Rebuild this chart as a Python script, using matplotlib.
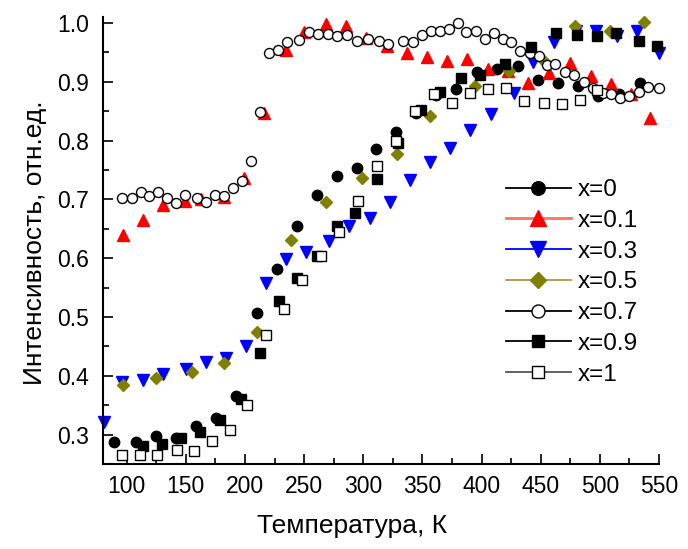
import numpy as np
import matplotlib
matplotlib.use("Agg")
import matplotlib.pyplot as plt
from matplotlib.lines import Line2D
from matplotlib.ticker import MultipleLocator

plt.rcParams['font.family'] = ['Liberation Sans', 'DejaVu Sans']

# x=0 (black filled circles)
t_x0 = [89.3, 107.6, 124.5, 141.4, 158.3, 175.2, 192.1, 209.8, 226.7, 243.6, 260.5, 278.0, 294.8,
        310.9, 327.8, 344.7, 361.8, 378.7, 395.9, 413.1, 430.5, 447.6, 464.6, 481.5, 498.4, 515.8, 533.6]
i_x0 = [0.287, 0.287, 0.298, 0.295, 0.314, 0.329, 0.366, 0.507, 0.581, 0.654, 0.707, 0.740, 0.753,
        0.785, 0.815, 0.846, 0.878, 0.887, 0.917, 0.921, 0.926, 0.903, 0.898, 0.893, 0.875, 0.879, 0.898]

# x=0.1 (red triangles up)
t_x01 = [96.9, 114.1, 131.0, 149.2, 162.5, 182.2, 199.1, 215.9, 234.3, 249.7, 268.1, 285.0, 301.9,
         320.2, 337.1, 354.0, 370.9, 387.8, 405.2, 422.4, 439.0, 456.7, 475.0, 492.5, 509.4, 526.3, 542.6]
i_x01 = [0.639, 0.665, 0.690, 0.697, 0.700, 0.704, 0.736, 0.846, 0.954, 0.985, 0.998, 0.994, 0.974,
         0.960, 0.949, 0.942, 0.936, 0.938, 0.921, 0.919, 0.897, 0.914, 0.931, 0.909, 0.896, 0.879, 0.839]

# x=0.3 (blue triangles down)
t_x03 = [80.8, 96.4, 114.1, 131.0, 149.8, 166.7, 183.6, 201.1, 218.0, 235.1, 252.0, 270.9, 287.8, 305.5,
         323.0, 339.9, 356.8, 373.6, 390.5, 408.0, 427.1, 443.8, 461.5, 480.1, 497.0, 514.4, 531.3, 549.6]
i_x03 = [0.321, 0.389, 0.393, 0.403, 0.412, 0.424, 0.430, 0.450, 0.558, 0.599, 0.611, 0.629, 0.655, 0.669,
         0.695, 0.733, 0.764, 0.788, 0.818, 0.845, 0.880, 0.934, 0.967, 0.986, 0.986, 0.977, 0.987, 0.949]

# x=0.5 (olive diamonds)
t_x05 = [96.9, 125.1, 154.9, 182.2, 210.4, 238.5, 268.9, 299.1, 328.6, 356.8, 394.8, 422.9, 452.2,
         478.6, 508.2, 536.9]
i_x05 = [0.385, 0.396, 0.407, 0.421, 0.475, 0.630, 0.695, 0.736, 0.777, 0.842, 0.892, 0.918, 0.937,
         0.995, 0.987, 1.001]

# x=0.7 (open circles)
t_x07 = [96.4, 104.2, 111.8, 119.2, 126.8, 134.4, 142.0, 149.6, 159.7, 167.3, 174.6, 182.2, 189.8, 197.7,
         205.3, 212.9, 220.5, 228.1, 235.7, 245.5, 253.9, 261.9, 270.4, 278.2, 286.4, 294.3, 304.1, 313.1,
         321.0, 333.7, 342.1, 349.7, 357.6, 365.2, 372.4, 380.0, 387.2, 395.2, 402.8, 410.2, 417.8, 425.2,
         432.8, 440.6, 448.2, 455.3, 462.3, 470.2, 477.8, 486.8, 494.2, 502.6, 509.6, 517.2, 524.8, 533.3,
         541.1, 549.6]
i_x07 = [0.703, 0.703, 0.712, 0.705, 0.713, 0.702, 0.693, 0.708, 0.703, 0.695, 0.707, 0.705, 0.720, 0.732,
         0.766, 0.848, 0.949, 0.954, 0.968, 0.971, 0.984, 0.981, 0.981, 0.977, 0.980, 0.970, 0.973, 0.970,
         0.964, 0.970, 0.967, 0.979, 0.987, 0.987, 0.990, 1.000, 0.984, 0.987, 0.973, 0.983, 0.972, 0.968,
         0.952, 0.948, 0.944, 0.929, 0.930, 0.917, 0.912, 0.899, 0.889, 0.881, 0.879, 0.873, 0.876, 0.883,
         0.891, 0.889]

# x=0.9 (black filled squares)
t_x09 = [114.1, 130.2, 145.6, 161.7, 178.5, 196.3, 212.6, 228.6, 244.2, 260.5, 277.4, 292.6, 311.7,
         329.1, 348.9, 364.6, 382.5, 399.0, 420.1, 441.6, 462.9, 480.6, 497.5, 513.9, 532.7, 548.7]
i_x09 = [0.281, 0.284, 0.294, 0.304, 0.325, 0.361, 0.439, 0.527, 0.566, 0.603, 0.654, 0.676, 0.734,
         0.795, 0.852, 0.883, 0.906, 0.912, 0.930, 0.959, 0.982, 0.980, 0.978, 0.982, 0.970, 0.960]

# x=1 (open squares)
t_x1 = [95.8, 111.0, 125.9, 142.2, 156.8, 171.8, 187.0, 201.9, 218.0, 232.9, 248.4, 263.9, 279.6, 295.7,
        311.7, 327.8, 343.5, 359.5, 375.1, 389.9, 405.7, 420.9, 435.6, 452.4, 468.0, 482.9, 497.5]
i_x1 = [0.265, 0.265, 0.265, 0.274, 0.272, 0.289, 0.308, 0.351, 0.470, 0.514, 0.562, 0.603, 0.645, 0.697,
        0.757, 0.800, 0.850, 0.879, 0.863, 0.881, 0.887, 0.890, 0.868, 0.864, 0.862, 0.869, 0.886]

labels = ['x=0', 'x=0.1', 'x=0.3', 'x=0.5', 'x=0.7', 'x=0.9', 'x=1']

# (marker, face, edge, size, legend line colour)
styles = [
    ('o', 'black', 'black', 7.5, 'black'),
    ('^', 'red', 'red', 8.8, '#ff7070'),
    ('v', 'blue', 'blue', 8.8, 'blue'),
    ('D', '#808000', '#808000', 6.3, '#a0a040'),
    ('o', 'white', 'black', 7.2, 'black'),
    ('s', 'black', 'black', 6.5, 'black'),
    ('s', 'white', 'black', 6.5, '#555555'),
]
series = [(t_x0, i_x0), (t_x01, i_x01), (t_x03, i_x03), (t_x05, i_x05),
          (t_x07, i_x07), (t_x09, i_x09), (t_x1, i_x1)]

fig = plt.figure(figsize=(6.88, 5.49), dpi=100)
ax = fig.add_axes([103 / 688, 85 / 549, 556 / 688, 447 / 549])

handles = []
for k in range(len(series)):
    t, v = series[k]
    m, fc, ec, ms, lc = styles[k]
    ax.plot(t, v, linestyle='none', marker=m, markerfacecolor=fc, markeredgecolor=ec,
            markersize=ms, markeredgewidth=1.0, clip_on=False)
    handles.append(Line2D([], [], color=lc, lw=1.3 if k != 1 else 2.0, marker=m,
                          markerfacecolor=fc, markeredgecolor=ec, markersize=ms * 1.3,
                          markeredgewidth=1.0))

ax.set_xlim(80, 550)
ax.set_ylim(0.25, 1.01)
ax.xaxis.set_major_locator(MultipleLocator(50))
ax.xaxis.set_minor_locator(MultipleLocator(25))
ax.yaxis.set_major_locator(MultipleLocator(0.1))
ax.yaxis.set_minor_locator(MultipleLocator(0.05))
ax.tick_params(which='both', direction='in', top=False, right=False, width=1.2, labelsize=16.5)
ax.tick_params(which='major', length=7)
ax.tick_params(which='minor', length=4)
ax.tick_params(axis='x', pad=8)
ax.tick_params(axis='y', pad=10)
ax.spines['top'].set_visible(False)
ax.spines['right'].set_visible(False)
for s in ('left', 'bottom'):
    ax.spines[s].set_linewidth(1.5)

ax.set_xlabel('Температура, К', fontsize=19)
ax.set_ylabel('Интенсивность, отн.ед.', fontsize=19)
ax.xaxis.set_label_coords((352 - 103) / 556, (464 - 514) / 447)
ax.yaxis.set_label_coords((47 - 103) / 556, (464 - 243) / 447)

ax.legend(handles, labels, loc='upper left', bbox_to_anchor=(506 / 688, 1 - 179 / 549),
          bbox_transform=fig.transFigure, frameon=False, fontsize=17.5, handlelength=2.67,
          handletextpad=0.29, labelspacing=0.36, borderpad=0, borderaxespad=0)

fig.savefig('out.png', dpi=100)
